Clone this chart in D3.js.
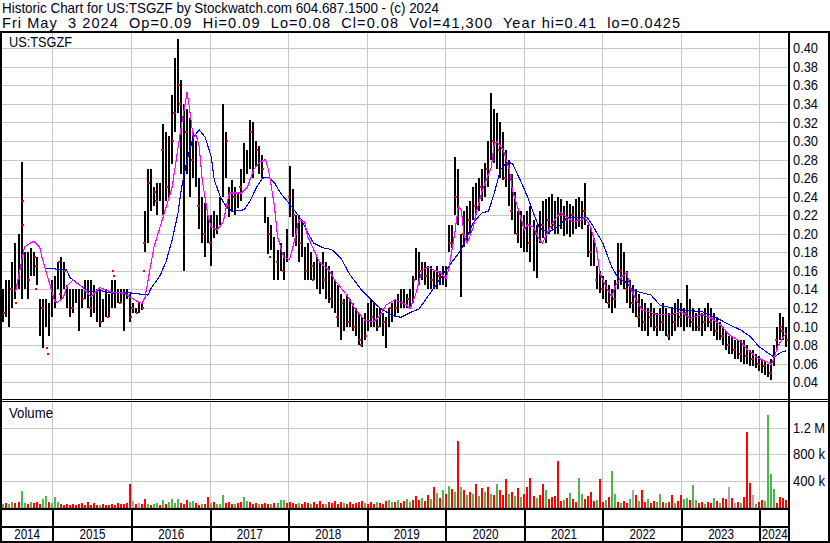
<!DOCTYPE html>
<html><head><meta charset="utf-8">
<script src="https://cdn.jsdelivr.net/npm/d3@7"></script>
<style>
body{margin:0;background:#fff}
svg{display:block}
text{font-family:"Liberation Sans",Arial,sans-serif;fill:#000018}
</style>
</head><body><svg id="c" width="830" height="543"></svg>
<script>
// ---------------- DATA ----------------
const titleLine1 = "Historic Chart for US:TSGZF by Stockwatch.com 604.687.1500 - (c) 2024";
const titleLine2 = "Fri May  3 2024  Op=0.09  Hi=0.09  Lo=0.08  Cl=0.08  Vol=41,300  Year hi=0.41  lo=0.0425";
const symbolLabel = "US:TSGZF";
const volumeLabel = "Volume";
const firstBarDate = "2014-05-05";   // bars are two-week periods
const barStepDays = 14;
const domainStart = "2014-05-03", domainEnd = "2024-05-13";
const years = [2014,2015,2016,2017,2018,2019,2020,2021,2022,2023,2024];
const priceTicks = [0.04,0.06,0.08,0.10,0.12,0.14,0.16,0.18,0.20,0.22,0.24,0.26,0.28,0.30,0.32,0.34,0.36,0.38,0.40];
const volTicks = [400000,800000,1200000];
const volTickLabels = ["400 k","800 k","1.2 M"];

const barHi = [
0.125,0.14,0.15,0.15,0.17,0.19,0.20,0.277,0.18,0.18,
0.185,0.18,0.175,0.13,0.13,0.13,0.125,0.15,0.155,0.17,
0.175,0.17,0.145,0.14,0.14,0.14,0.14,0.14,0.15,0.15,
0.15,0.145,0.14,0.14,0.13,0.14,0.135,0.15,0.15,0.14,
0.14,0.14,0.14,0.135,0.125,0.12,0.125,0.125,0.225,0.27,
0.27,0.25,0.255,0.255,0.318,0.31,0.305,0.35,0.39,0.41,
0.366,0.34,0.335,0.325,0.31,0.30,0.26,0.24,0.233,0.22,
0.22,0.225,0.22,0.24,0.34,0.31,0.25,0.258,0.25,0.245,
0.27,0.298,0.29,0.323,0.32,0.30,0.295,0.285,0.24,0.218,
0.21,0.197,0.183,0.19,0.18,0.205,0.273,0.248,0.22,0.22,
0.215,0.186,0.19,0.18,0.17,0.175,0.17,0.18,0.17,0.165,
0.16,0.15,0.145,0.135,0.13,0.135,0.13,0.125,0.12,0.115,
0.11,0.115,0.125,0.13,0.125,0.12,0.12,0.115,0.11,0.12,
0.125,0.13,0.135,0.14,0.14,0.135,0.14,0.155,0.185,0.18,
0.17,0.17,0.165,0.165,0.16,0.165,0.16,0.165,0.165,0.21,
0.21,0.283,0.27,0.20,0.225,0.23,0.235,0.25,0.255,0.26,
0.27,0.276,0.30,0.352,0.335,0.33,0.32,0.31,0.29,0.28,
0.265,0.245,0.225,0.225,0.22,0.225,0.23,0.215,0.21,0.225,
0.235,0.237,0.24,0.243,0.235,0.24,0.237,0.23,0.235,0.232,
0.23,0.237,0.24,0.235,0.255,0.21,0.205,0.195,0.165,0.16,
0.155,0.15,0.145,0.14,0.15,0.19,0.19,0.18,0.16,0.15,
0.145,0.14,0.135,0.13,0.125,0.12,0.125,0.12,0.115,0.12,
0.125,0.12,0.115,0.12,0.125,0.13,0.125,0.12,0.145,0.13,
0.12,0.115,0.12,0.115,0.12,0.125,0.12,0.115,0.11,0.105,
0.10,0.095,0.09,0.09,0.085,0.085,0.085,0.085,0.08,0.075,
0.075,0.07,0.068,0.065,0.062,0.06,0.065,0.08,0.10,0.115,
0.11,0.10];
const barLo = [
0.10,0.105,0.11,0.10,0.12,0.13,0.14,0.13,0.14,0.13,
0.155,0.155,0.145,0.09,0.077,0.10,0.09,0.11,0.12,0.14,
0.13,0.14,0.12,0.11,0.115,0.125,0.095,0.12,0.13,0.12,
0.11,0.115,0.105,0.10,0.105,0.11,0.11,0.12,0.12,0.125,
0.125,0.095,0.13,0.105,0.115,0.115,0.115,0.118,0.18,0.19,
0.225,0.23,0.22,0.235,0.22,0.235,0.24,0.275,0.31,0.33,
0.265,0.16,0.265,0.24,0.26,0.25,0.205,0.19,0.175,0.19,
0.165,0.195,0.20,0.21,0.24,0.26,0.218,0.225,0.22,0.228,
0.235,0.255,0.265,0.27,0.26,0.273,0.265,0.26,0.212,0.178,
0.183,0.15,0.15,0.16,0.15,0.17,0.218,0.197,0.187,0.17,
0.175,0.15,0.15,0.15,0.15,0.14,0.135,0.14,0.13,0.125,
0.12,0.115,0.10,0.085,0.095,0.10,0.10,0.095,0.09,0.08,
0.078,0.085,0.095,0.10,0.10,0.095,0.10,0.09,0.077,0.10,
0.105,0.11,0.115,0.12,0.12,0.12,0.12,0.125,0.15,0.145,
0.15,0.145,0.14,0.14,0.14,0.14,0.145,0.145,0.143,0.18,
0.185,0.22,0.21,0.132,0.186,0.19,0.20,0.215,0.22,0.225,
0.235,0.24,0.25,0.28,0.276,0.27,0.26,0.258,0.25,0.23,
0.215,0.20,0.19,0.185,0.18,0.18,0.17,0.16,0.152,0.19,
0.195,0.19,0.20,0.205,0.20,0.20,0.205,0.198,0.20,0.197,
0.20,0.205,0.207,0.205,0.21,0.175,0.165,0.165,0.14,0.136,
0.13,0.125,0.12,0.115,0.12,0.14,0.145,0.14,0.125,0.12,
0.115,0.11,0.10,0.095,0.095,0.09,0.10,0.095,0.09,0.095,
0.095,0.09,0.085,0.09,0.095,0.10,0.10,0.095,0.10,0.10,
0.095,0.095,0.095,0.09,0.095,0.10,0.095,0.09,0.085,0.085,
0.08,0.075,0.07,0.07,0.065,0.065,0.062,0.06,0.06,0.058,
0.057,0.055,0.052,0.05,0.048,0.046,0.0425,0.058,0.075,0.085,
0.085,0.078];

// red close markers: bar index and price
const dotIdx = [1,4,5,7,7,9,11,12,12,14,15,16,19,20,21,24,27,30,33,36,37,38,40,43,44,45,47,
 48,48,49,51,52,54,55,57,58,59,60,62,64,66,68,70,72,75,76,78,80,83,85,87,89,90,92,94,96,97,99,101,103,104,
 107,110,112,113,115,117,119,120,121,123,125,127,129,131,133,135,137,139,141,143,146,
 149,151,154,156,158,160,162,164,166,168,170,172,174,176,178,180,182,184,186,188,190,192,194,196,198,200,202,204,206,208,210,
 212,214,216,218,220,222,224,226,228,230,232,234,236,238,240,242,244,246,248,250,252,254,256,258,259,260,261];
const dotVal = [0.115,0.14,0.125,0.235,0.21,0.15,0.175,0.165,0.14,0.12,0.077,0.07,0.17,0.135,0.16,0.12,0.13,0.12,0.105,0.11,0.16,0.155,0.125,0.11,0.12,0.115,0.12,
 0.16,0.19,0.255,0.245,0.235,0.29,0.25,0.30,0.33,0.36,0.34,0.31,0.28,0.23,0.20,0.19,0.205,0.30,0.23,0.24,0.25,0.31,0.29,0.27,0.20,0.175,0.17,0.16,0.24,0.22,0.19,0.16,0.165,0.15,
 0.15,0.13,0.11,0.125,0.105,0.10,0.085,0.08,0.09,0.11,0.10,0.105,0.12,0.12,0.125,0.13,0.15,0.16,0.155,0.15,0.155,
 0.19,0.24,0.20,0.215,0.23,0.25,0.27,0.30,0.29,0.26,0.225,0.20,0.21,0.19,0.20,0.21,0.215,0.21,0.22,0.215,0.22,0.215,0.225,0.18,0.15,0.14,0.125,0.13,0.16,0.14,0.125,
 0.11,0.105,0.11,0.10,0.105,0.09,0.105,0.11,0.115,0.105,0.10,0.105,0.105,0.095,0.09,0.08,0.075,0.07,0.068,0.065,0.06,0.058,0.05,0.085,0.10,0.095,0.085];

// short moving average (magenta)
const fastIdx = [5,7,8,11,13,14,16,17,18,19,21,22,24,27,30,32,33,37,41,43,46,47,48,49,51,54,57,60,62,63,64,65,66,67,69,70,72,74,75,76,80,82,84,86,88,89,90,91,92,94,96,98,99,101,102,104,106,109,111,115,118,121,124,126,128,131,135,136,138,140,142,144,146,148,149,151,152,153,154,155,157,158,160,163,164,165,167,169,170,172,174,175,177,179,180,182,184,186,188,190,193,194,196,198,199,201,203,204,206,208,209,211,213,218,223,226,229,233,236,239,242,246,248,251,255,256,257,258,260,261];
const fastVal = [0.137,0.170,0.186,0.192,0.186,0.172,0.150,0.139,0.127,0.126,0.132,0.143,0.150,0.143,0.132,0.139,0.142,0.137,0.136,0.132,0.126,0.125,0.131,0.150,0.186,0.218,0.250,0.315,0.353,0.330,0.304,0.306,0.294,0.258,0.218,0.207,0.204,0.213,0.229,0.244,0.244,0.250,0.269,0.277,0.280,0.269,0.250,0.229,0.197,0.175,0.172,0.197,0.215,0.213,0.197,0.183,0.169,0.161,0.150,0.134,0.118,0.107,0.105,0.112,0.123,0.129,0.123,0.119,0.136,0.161,0.164,0.161,0.158,0.152,0.164,0.204,0.229,0.226,0.197,0.190,0.207,0.223,0.247,0.272,0.298,0.299,0.290,0.269,0.247,0.226,0.204,0.210,0.207,0.193,0.190,0.204,0.215,0.223,0.218,0.213,0.215,0.218,0.207,0.183,0.158,0.143,0.132,0.143,0.153,0.158,0.143,0.129,0.118,0.113,0.113,0.116,0.109,0.113,0.109,0.102,0.091,0.083,0.075,0.067,0.061,0.059,0.067,0.078,0.089,0.093];

// long moving average (blue)
const slowIdx = [15,22,23,27,30,33,37,40,44,49,50,53,55,57,59,60,62,64,66,68,70,71,73,75,77,81,83,85,87,89,91,93,95,97,100,102,104,107,110,113,116,120,123,126,130,133,136,139,144,148,153,157,160,162,164,166,168,170,173,175,177,179,182,185,188,192,195,197,200,203,205,208,210,216,219,226,233,238,242,246,249,252,256,257,259,261];
const slowVal = [0.163,0.161,0.153,0.143,0.137,0.139,0.136,0.137,0.136,0.134,0.141,0.155,0.170,0.193,0.223,0.247,0.280,0.304,0.312,0.304,0.283,0.258,0.240,0.229,0.224,0.226,0.236,0.250,0.260,0.261,0.255,0.244,0.236,0.228,0.215,0.201,0.190,0.185,0.183,0.174,0.156,0.139,0.129,0.120,0.112,0.110,0.115,0.119,0.142,0.161,0.183,0.212,0.223,0.224,0.244,0.269,0.277,0.276,0.255,0.240,0.222,0.206,0.202,0.207,0.217,0.218,0.217,0.207,0.190,0.164,0.153,0.147,0.139,0.134,0.123,0.118,0.116,0.109,0.102,0.096,0.089,0.078,0.069,0.067,0.072,0.074];

// volume per bar (thousands) and colour code: r = down, g = up, n = unchanged
const volK = [
70,40,60,50,75,60,80,240,60,50,
75,60,70,50,120,165,80,60,150,75,
40,30,45,35,50,30,40,60,35,75,
30,55,25,35,40,30,25,45,35,60,
50,40,55,350,90,50,60,40,120,50,
30,40,55,35,105,40,70,120,60,120,
60,50,100,70,90,60,30,50,40,150,
60,70,50,40,180,60,70,50,40,60,
80,150,90,75,50,60,45,40,60,50,
40,60,55,105,110,60,80,60,40,60,
50,80,60,40,70,50,90,45,50,80,
60,90,40,70,55,45,80,40,60,70,
90,60,50,70,40,80,60,45,90,110,
70,80,100,60,90,120,80,110,160,100,
140,90,180,120,300,210,140,260,200,320,
270,230,1000,300,250,180,220,200,350,160,
280,220,300,200,180,340,250,180,420,200,
220,160,280,150,190,300,440,160,140,180,
350,260,120,150,160,700,90,110,130,210,
120,80,440,190,120,160,225,90,100,420,
80,110,150,540,190,70,60,90,60,120,
260,180,90,260,80,120,60,90,70,195,
80,60,70,180,60,90,175,120,140,100,
330,100,60,80,50,70,60,135,90,60,
130,120,300,130,60,70,60,150,1130,360,
180,50,70,110,90,1390,500,270,60,150,
130,100];
const volDir =
"rgrggrrggr"+"grrrggrggg"+"rrrrrrrrrr"+"rrrgrrrrrr"+"rrrrnrnrrg"+
"rggrgrgggg"+"rrrggrrgrr"+"grgggrrrgr"+"rggrrrgrrr"+"grgggrrrrg"+
"rrrgrrrrgr"+"rrrrgrrrrr"+"rgrrrgrrrg"+"grgrrggrrr"+"grrgrgrgrg"+
"rgrgrgrgrg"+"rgrgrgrrrg"+"rgrgrrrrgr"+"rgrrrrrgrg"+"rrggrrrrgr"+
"rgrggrgrrg"+"nrgrrgrrgg"+"rgrrgrrggr"+"ggrrgrrgrg"+"rrnrnrgrrr"+
"ngrrgggg"+"rrrr";

// ---------------- CHART ----------------
const svg = d3.select("#c");
const W = 830, H = 543;
const plotR = 788;
const priceTop = 33, priceBot = 399;
const volTop = 402, volBot = 508;

const parse = d3.timeParse("%Y-%m-%d");
const d0 = parse(firstBarDate);
const barDate = i => d3.timeDay.offset(d0, i * barStepDays);

const x = d3.scaleTime().domain([parse(domainStart), parse(domainEnd)]).range([0, plotR]);
const y = d3.scaleLinear().domain([0.04, 0.40]).range([382.2, 48.3]);
const vy = d3.scaleLinear().domain([0, 1600000]).range([507, 401]);

svg.append("rect").attr("width", W).attr("height", H).attr("fill", "#fff");

const defs = svg.append("defs");
defs.append("clipPath").attr("id", "pclip").append("rect")
  .attr("x", 0).attr("y", priceTop).attr("width", plotR).attr("height", priceBot - priceTop);

const grid = svg.append("g").attr("shape-rendering", "crispEdges").attr("stroke", "#c8c8c8");
grid.selectAll("line.hp").data(priceTicks).join("line")
  .attr("x1", 0).attr("x2", plotR)
  .attr("y1", d => Math.round(y(d)) + 0.5).attr("y2", d => Math.round(y(d)) + 0.5);
grid.selectAll("line.hv").data([0].concat(volTicks)).join("line")
  .attr("x1", 0).attr("x2", plotR)
  .attr("y1", d => Math.round(vy(d)) + 0.5).attr("y2", d => Math.round(vy(d)) + 0.5);
const yearBounds = years.slice(1).map(yr => x(new Date(yr, 0, 1)));
grid.selectAll("line.v1").data(yearBounds).join("line")
  .attr("x1", d => Math.round(d) + 0.5).attr("x2", d => Math.round(d) + 0.5)
  .attr("y1", priceTop).attr("y2", priceBot);
grid.selectAll("line.v2").data(yearBounds).join("line")
  .attr("class", "v2")
  .attr("x1", d => Math.round(d) + 0.5).attr("x2", d => Math.round(d) + 0.5)
  .attr("y1", volTop).attr("y2", volBot);

// price bars
const bars = barHi.map((h, i) => ({ i, h, l: barLo[i] }));
const pg = svg.append("g").attr("clip-path", "url(#pclip)").attr("shape-rendering", "crispEdges");
pg.selectAll("rect.bar").data(bars).join("rect")
  .attr("x", d => Math.round(x(barDate(d.i))) - 1)
  .attr("width", 2)
  .attr("y", d => Math.round(y(d.h)))
  .attr("height", d => Math.max(1, Math.round(y(d.l)) - Math.round(y(d.h))))
  .attr("fill", "#000");

// red markers
const dots = dotIdx.map((i, k) => ({ i, v: dotVal[k] }));
pg.selectAll("rect.dot").data(dots).join("rect")
  .attr("x", d => Math.round(x(barDate(d.i))) + (d.i % 2 ? 0 : -2))
  .attr("y", d => Math.round(y(d.v)) - 1)
  .attr("width", 2).attr("height", 2).attr("fill", "#ff0000");

// moving averages
const line = d3.line().x(d => x(barDate(d.i))).y(d => y(d.v));
const fast = fastIdx.map((i, k) => ({ i, v: fastVal[k] }));
const slow = slowIdx.map((i, k) => ({ i, v: slowVal[k] }));
pg.append("path").datum(slow).attr("d", line).attr("fill", "none").attr("stroke", "#0000ff").attr("stroke-width", 1.1);
pg.append("path").datum(fast).attr("d", line).attr("fill", "none").attr("stroke", "#ff00ff").attr("stroke-width", 1.1);

// volume bars
const vcol = { r: "#ff0000", g: "#4cb84c", n: "#a8a8a8" };
const vols = volK.map((v, i) => ({ i, v: v * 1000, c: volDir[i] || "r" }));
svg.append("g").attr("shape-rendering", "crispEdges")
  .selectAll("rect").data(vols).join("rect")
  .attr("x", d => Math.round(x(barDate(d.i))) - 1)
  .attr("width", 2)
  .attr("y", d => Math.round(vy(d.v)))
  .attr("height", d => 508 - Math.round(vy(d.v)))
  .attr("fill", d => vcol[d.c]);

// frame
const fr = svg.append("g").attr("shape-rendering", "crispEdges").attr("fill", "#000");
fr.append("rect").attr("x", 0).attr("y", 31).attr("width", W).attr("height", 2);
fr.append("rect").attr("x", 0).attr("y", 31).attr("width", 2).attr("height", H - 31);
fr.append("rect").attr("x", plotR).attr("y", 31).attr("width", 2).attr("height", H - 31);
fr.append("rect").attr("x", W - 2).attr("y", 31).attr("width", 2).attr("height", H - 31);
fr.append("rect").attr("x", 0).attr("y", 399).attr("width", W).attr("height", 1);
fr.append("rect").attr("x", 0).attr("y", 401).attr("width", W).attr("height", 1);
fr.append("rect").attr("x", 0).attr("y", 508).attr("width", plotR).attr("height", 2);
fr.append("rect").attr("x", 0).attr("y", 526).attr("width", plotR).attr("height", 2);
fr.append("rect").attr("x", 0).attr("y", 541).attr("width", W).attr("height", 2);
fr.selectAll("rect.yd").data(yearBounds).join("rect")
  .attr("x", d => Math.round(d)).attr("y", 510).attr("width", 2).attr("height", 31);

// texts
svg.append("text").attr("x", 2).attr("y", 13).attr("font-size", 14.5)
  .attr("textLength", 437).attr("lengthAdjust", "spacingAndGlyphs").text(titleLine1);
svg.append("text").attr("x", 2).attr("y", 28).attr("font-size", 14.5).attr("xml:space", "preserve")
  .attr("textLength", 678).attr("lengthAdjust", "spacing")
  .style("white-space", "pre").text(titleLine2);
svg.append("text").attr("x", 9).attr("y", 47).attr("font-size", 14.5)
  .attr("textLength", 63).attr("lengthAdjust", "spacingAndGlyphs").text(symbolLabel);
svg.append("text").attr("x", 9).attr("y", 418).attr("font-size", 14.5)
  .attr("textLength", 44).attr("lengthAdjust", "spacingAndGlyphs").text(volumeLabel);

svg.selectAll("text.pt").data(priceTicks).join("text")
  .attr("x", 793).attr("y", d => y(d) + 5).attr("font-size", 14)
  .attr("textLength", 25).attr("lengthAdjust", "spacingAndGlyphs")
  .text(d => d3.format(".2f")(d));
svg.selectAll("text.vt").data(volTicks).join("text")
  .attr("x", 793).attr("y", d => vy(d) + 5).attr("font-size", 14)
  .attr("textLength", 32).attr("lengthAdjust", "spacingAndGlyphs")
  .text((d, k) => volTickLabels[k]);

const edges = [0].concat(yearBounds).concat([plotR]);
svg.selectAll("text.yr").data(years).join("text")
  .attr("x", (d, k) => (edges[k] + edges[k + 1]) / 2 - 13 + 1)
  .attr("y", 539).attr("font-size", 14.5)
  .attr("textLength", 26).attr("lengthAdjust", "spacingAndGlyphs")
  .text(d => d);
</script></body></html>
